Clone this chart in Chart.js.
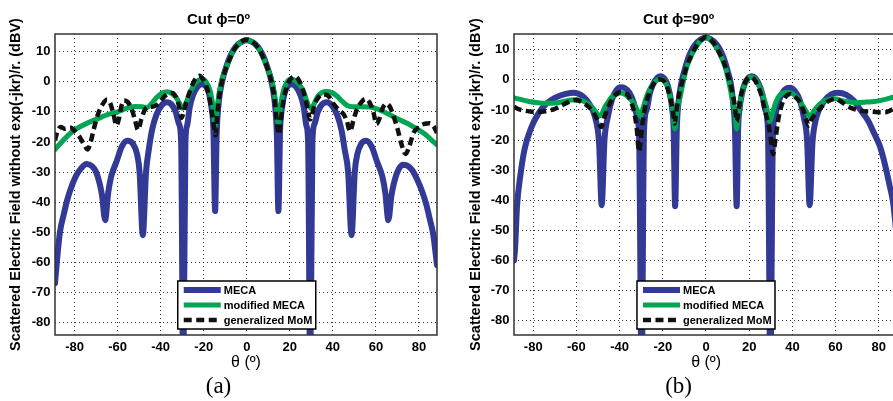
<!DOCTYPE html>
<html>
<head>
<meta charset="utf-8">
<script src="https://cdn.jsdelivr.net/npm/chart.js@4.4.1/dist/chart.umd.min.js"></script>
<style>
  body { margin: 0; background: #fff; overflow: hidden; }
  #wrap { position: relative; width: 893px; height: 401px; overflow: hidden; }
  canvas { position: absolute; top: 0; }
</style>
</head>
<body>
<div id="wrap">
  <canvas id="cutA" width="443" height="401" style="left:0"></canvas>
  <canvas id="cutB" width="460" height="401" style="left:443px"></canvas>
</div>
<script>
// ---- data (theta in deg, field in dBV) ----
const X_TICKS = [-80, -60, -40, -20, 0, 20, 40, 60, 80];
const Y_TICKS = [-80, -70, -60, -50, -40, -30, -20, -10, 0, 10];
const LABELS = ['MECA', 'modified MECA', 'generalized MoM'];

// (a) cut phi = 0
const A_MECA_THETA = [-89.1, -88, -86.8, -85, -83.5, -81.5, -79.5, -77, -74.5, -72, -70, -68.3, -67.2, -65.8, -64.4, -63, -60.5, -58, -55.5, -53, -51, -49.8, -48.3, -46.8, -45.5, -44, -42, -39.5, -37.2, -35, -33, -31.5, -30.5, -29.5, -28.5, -27.7, -26.5, -25, -23, -21, -19, -17.5, -16.3, -15.5, -14.7, -14, -13.3, -12.3, -11, -9.5, -8, -6, -4, -2, 0,
  2, 4, 6, 8, 9.5, 11, 12.3, 13.3, 14, 14.7, 15.5, 16.3, 17.5, 19, 21, 23, 25, 26.5, 27.7, 28.5, 29.5, 30.5, 31.5, 33, 35, 37.2, 39.5, 42, 44, 45.5, 47.1, 48.7, 50.2, 51.4, 53.3, 55.5, 58, 60.5, 63, 64.4, 65.8, 67.2, 68.3, 70, 72.5, 74.5, 77, 79.5, 81.5, 83.5, 85, 86.7, 88.4];
const A_MECA_DB = [-67, -58, -50, -44, -39.5, -35, -31.5, -28.8, -27.3, -28, -30, -34, -38, -46, -37, -31.5, -26.5, -21.5, -19.6, -20.5, -24, -30, -51, -30, -22.5, -16, -11, -7.8, -6.8, -7.5, -10, -14, -20, -100, -20, -14.5, -8.5, -4.5, -1.8, -0.8, -1.5, -4, -9, -16, -43, -18, -9, -3, 1.5, 5, 8, 10.8, 12.5, 13.4, 13.8,
  13.4, 12.5, 10.8, 8, 5, 1.5, -3, -9, -18, -43, -16, -9, -4, -1.5, -0.8, -1.8, -4.5, -8.5, -14.5, -20, -100, -20, -14, -10, -7.5, -6.8, -7.8, -11, -16, -22.5, -30, -51, -30, -24, -20.5, -19.6, -21.5, -26.5, -31.5, -37, -46, -38, -34, -30, -27.6, -27.8, -29.5, -33, -36.5, -41, -45.5, -51, -61];

const A_MOD_THETA = [-89.1, -86, -83, -80, -75, -70, -65, -60, -56, -52, -48.5, -46.5, -44, -42, -39.5, -37, -35, -33, -31.2, -29.8, -28.5, -26.5, -24.5, -22.5, -20.5, -18.5, -17, -15.8, -14.7, -13.8, -12.8, -11.5, -10, -8, -6, -4, -2, 0,
  2, 4, 6, 8, 10, 11.5, 12.8, 13.8, 14.7, 15.8, 17, 18.5, 20.5, 22.5, 24.5, 26.3, 28.3, 30.1, 31.5, 33, 35, 37, 39.5, 42, 44.5, 46.5, 49, 53, 57, 62, 66, 70, 74, 77.5, 80.5, 83.5, 86, 88.4];
const A_MOD_DB = [-22.5, -20, -17.8, -16, -14, -12.5, -11, -10, -8.8, -8.2, -8.3, -8.6, -7, -5.3, -3.8, -3.3, -3.8, -5, -7.2, -8.8, -7.5, -3.8, -1, 0.5, 0.9, -0.5, -3, -7.5, -14.5, -9, -3.5, 0.8, 3.8, 7.5, 10.5, 12.4, 13.5, 13.9,
  13.5, 12.4, 10.5, 7.5, 3.8, 0.8, -3.5, -9, -14, -7.5, -3, -0.3, 0.9, 0.4, -1, -3, -7.2, -8.9, -7, -4.8, -3.5, -3.2, -3.6, -4.8, -6.6, -7.8, -8.3, -8.3, -8.4, -9.4, -10.8, -12.3, -13.6, -15, -16.3, -17.8, -19.5, -21];

const A_MOM_THETA = [-89.1, -88, -86.5, -84.5, -82, -80, -77.5, -75.5, -74, -72.5, -71, -69, -67, -65, -63.5, -62, -60.5, -59.3, -58.2, -57, -55.5, -53.5, -52, -50.5, -49, -47.5, -46, -44, -42, -40, -38, -36, -34.5, -33, -31.5, -30.3, -29.3, -28.2, -26.8, -25.3, -23.5, -22, -20.3, -18.8, -17.2, -16, -15, -14.5, -13.8, -12.8, -11.5, -10, -8, -6, -4, -2, 0,
  2, 4, 6, 8, 10, 11.5, 12.8, 13.8, 14.9, 15.7, 16.6, 17.7, 19.2, 21, 22.5, 24, 25.5, 27, 28.3, 29.5, 30.5, 31.5, 33, 35, 37, 38.5, 40.5, 43, 45, 46.5, 48, 49.5, 51, 53, 55.2, 57, 58.8, 60.3, 61.5, 63, 64.8, 66.5, 68, 70, 72, 73.8, 75.5, 77.5, 80, 82.5, 85, 87, 88.4];
const A_MOM_DB = [-19.5, -16.5, -15, -15.6, -15.2, -16.3, -18.5, -21, -22.5, -20, -15.5, -10.5, -7.5, -6, -7, -10.5, -14.5, -12, -8, -6.2, -6.6, -9, -12.5, -16, -12.5, -9.5, -8.4, -8.3, -7.8, -6.3, -4.7, -3.8, -3.7, -5, -8, -12, -10, -7, -4, -1, 1.3, 2, 0.8, -1.3, -6, -11, -16, -17.8, -12, -5, 0, 3.8, 7.5, 10.5, 12.5, 13.6, 14,
  13.6, 12.5, 10.5, 7.5, 3.8, 0, -5, -12, -17.5, -14, -8.5, -4, -0.5, 1.4, 1.8, 0.8, -1.5, -5, -9, -12.5, -10.5, -7.5, -5.5, -4.2, -4.3, -5.2, -7.5, -9.5, -10.8, -13, -16.5, -13, -9.5, -7, -5.7, -6.8, -10, -14, -12.5, -9, -7.3, -8.3, -11, -15.5, -21, -24, -21.5, -17, -15, -14, -13.8, -15, -17];

// (b) cut phi = 90
const B_MECA_THETA = [-88.9, -88.4, -87.5, -86, -84, -81, -77.7, -74, -70, -65, -61, -58, -55, -52.5, -50.8, -49.5, -48.3, -47, -45.5, -43.5, -41.5, -39.5, -37.5, -35.5, -33.5, -32, -31, -29.8, -28.7, -27.5, -26, -24.5, -22.5, -21, -19.5, -18, -16.8, -15.6, -15, -14.3, -13.5, -12.8, -11.5, -10, -8, -6, -4, -2, 0,
  2, 4, 6, 8, 10, 11.5, 12.6, 13.4, 14.2, 14.9, 15.5, 16.7, 18, 19.5, 21, 22.6, 24.5, 26, 27.5, 28.7, 29.8, 31, 32, 33.5, 35.5, 37.5, 39, 41, 43.3, 45.3, 46.8, 48, 49.3, 50.6, 52.3, 55, 58, 61, 65, 68.5, 71.3, 75, 78, 80.5, 83, 85, 86.7, 88, 89];
const B_MECA_DB = [-60, -56, -42, -32, -23, -16, -11.3, -8, -6, -4.7, -4.3, -5, -7, -10, -14, -21, -41.6, -20, -12.5, -6.5, -3.5, -2.5, -2.8, -4.2, -7.5, -12, -18, -100, -17, -10, -4.5, -1.5, 0.7, 1.2, 0.6, -1.2, -4.5, -10, -16, -42, -16, -8, -1.3, 3, 7.6, 10.6, 12.5, 13.6, 14,
  13.6, 12.5, 10.6, 7.6, 3, -1.3, -8, -16, -42, -16, -10, -4.5, -1.2, 0.6, 1.2, 0.7, -1.5, -4.5, -10, -17, -100, -18, -12, -7.5, -4.2, -2.8, -2.6, -3.6, -6.5, -12.5, -20, -41.6, -21, -14, -10, -6.8, -4.8, -4.3, -5, -7, -9.8, -13.5, -18, -22, -28.5, -35, -41, -50, -58];

const B_MOD_THETA = [-88.9, -86, -82, -78, -74, -70, -66, -62.5, -60, -57, -54.5, -52.5, -51, -49.5, -48, -46.8, -45, -43.5, -41.5, -39.5, -37.5, -35.2, -33.5, -32, -30.5, -29, -27.5, -26, -24.4, -22.5, -21, -19.5, -17.5, -16.3, -15.4, -14.4, -13.3, -12, -10.5, -8.9, -6.5, -4.3, -2, 0,
  2, 4.3, 6.5, 8.9, 10.5, 12, 13.2, 14.2, 15.2, 16.2, 17.5, 19.2, 21, 22.8, 24.5, 26.3, 28, 29.6, 30.8, 32.3, 34, 36, 38, 40, 42, 44, 46, 48.2, 50, 52, 54, 56.5, 59.7, 63, 66.7, 70, 74.4, 78, 80.6, 83.5, 86.7, 89];
const B_MOD_DB = [-6, -6.5, -7.2, -7.6, -7.8, -7.7, -7.2, -6.7, -6.6, -7, -8, -9.3, -10.7, -12, -11, -9, -7, -5.6, -4.7, -4.4, -4.8, -6.3, -7.8, -9.7, -12, -9, -5.5, -3, -1.3, 0, 0.3, -0.3, -3, -6.5, -10.2, -16.3, -10, -5.8, -0.5, 4.2, 8.5, 11.3, 13.3, 14,
  13.3, 11.3, 8.5, 4.2, -0.5, -5.8, -10, -16.3, -10.2, -6, -2.5, -0.1, 0.9, 0.3, -1.8, -5, -9, -13.8, -11, -7.5, -5.2, -4.3, -4.1, -4.6, -5.8, -7.8, -10, -12.2, -10.3, -8.5, -7.3, -6.6, -6.3, -6.9, -7.4, -7.6, -7.4, -7.2, -6.9, -6.4, -5.8, -5.4];

const B_MOM_THETA = [-88.9, -86.5, -84, -80, -77.7, -75, -73, -70.5, -68.4, -66, -63.8, -61.5, -60, -58, -56, -54, -52.2, -50.5, -48.5, -47.3, -46, -44.5, -42.9, -41.3, -39.8, -38, -36, -34.8, -33.6, -32.1, -31, -30.2, -29.8, -29, -28.2, -26.6, -25.1, -23.5, -22, -20.5, -19, -17.7, -16.6, -15.8, -15.1, -14.5, -13.8, -13, -12, -10.5, -8.9, -6.5, -4.3, -2, 0,
  2, 4.3, 6.5, 8.9, 10.5, 12, 13.2, 14.3, 15.3, 16.3, 17.8, 19.3, 20.7, 22.3, 24, 25.8, 27.3, 28.8, 29.8, 31, 32.3, 33.3, 34.3, 35.8, 37.5, 39, 41, 43.5, 45.3, 46.6, 47.5, 48.8, 51.2, 53.5, 55.9, 57.8, 59.7, 62.5, 65.1, 68, 71.3, 74.5, 77.5, 80.5, 83, 85, 86.7, 89];
const B_MOM_DB = [-9, -9.8, -10.2, -10.6, -10.6, -10.5, -10.2, -9.8, -9.1, -8.2, -7.4, -6.8, -6.7, -7.2, -8, -9.2, -10.8, -13, -15.7, -13, -10.2, -7.8, -5.8, -4.6, -4.1, -4.4, -5.2, -7.2, -9.7, -15.8, -23.8, -20, -16.9, -12.5, -9.1, -5, -2.4, -0.6, 0.2, 0, -0.8, -3, -5.8, -8.5, -11.5, -14.5, -11, -7, -3.5, 0.5, 4.5, 8.5, 11.5, 13.4, 14.2,
  13.4, 11.5, 8.5, 4.5, 0.5, -3.5, -8, -13.8, -9, -5, -1.5, 0.4, 0.9, 0.2, -2, -5.5, -10.2, -14.5, -18.5, -24.7, -19, -14, -10.2, -7, -5.2, -4.7, -5.5, -7.4, -10.5, -13.6, -15.2, -13.2, -10.8, -9, -7.4, -6.7, -6.3, -7.2, -8.6, -9.6, -10.2, -10.5, -10.6, -10.8, -10.8, -10.3, -9.7, -9];

// ---- styling ----
Chart.defaults.font.family = '"Liberation Sans", Arial, Helvetica, sans-serif';
Chart.defaults.color = '#000';

const BLUE = '#323a96';
const GREEN = '#00a651';
const BLACK = '#111111';

function pts(theta, db) {
  return theta.map((t, i) => ({ x: t, y: db[i] }));
}

// box around the axes + MATLAB-like legend at the bottom centre
const boxLegend = {
  id: 'boxLegend',
  afterDatasetsDraw(chart) {
    const { ctx, chartArea: a } = chart;
    ctx.save();
    ctx.strokeStyle = '#333';
    ctx.lineWidth = 1.5;
    ctx.strokeRect(a.left, a.top, a.right - a.left, a.bottom - a.top);

    const w = 138, h = 48;
    const x0 = chart.scales.x.getPixelForValue(0) - w / 2;
    const y0 = a.bottom - 6 - h;
    ctx.fillStyle = '#fff';
    ctx.fillRect(x0, y0, w, h);
    ctx.strokeStyle = '#000';
    ctx.strokeRect(x0, y0, w, h);

    chart.data.datasets.forEach((ds, i) => {
      const y = y0 + 9 + i * 15;
      ctx.beginPath();
      ctx.setLineDash(ds.borderDash || []);
      ctx.lineCap = 'butt';
      ctx.lineWidth = ds.borderWidth;
      ctx.strokeStyle = ds.borderColor;
      ctx.moveTo(x0 + 6, y);
      ctx.lineTo(x0 + 43, y);
      ctx.stroke();
      ctx.setLineDash([]);
      ctx.fillStyle = '#000';
      ctx.font = 'bold 11px "Liberation Sans", Arial, sans-serif';
      ctx.textBaseline = 'middle';
      ctx.textAlign = 'left';
      ctx.fillText(ds.label, x0 + 46, y + 0.5);
    });
    ctx.restore();
  }
};

function makeCut(id, p) {
  const datasets = [
    { label: LABELS[0], data: pts(p.meca[0], p.meca[1]), borderColor: BLUE, borderWidth: 6, order: 3,
      borderCapStyle: 'round', borderJoinStyle: 'round' },
    { label: LABELS[1], data: pts(p.mod[0], p.mod[1]), borderColor: GREEN, borderWidth: 5, order: 2,
      borderCapStyle: 'round', borderJoinStyle: 'round' },
    { label: LABELS[2], data: pts(p.mom[0], p.mom[1]), borderColor: BLACK, borderWidth: 4.5, order: 1,
      borderDash: [8, 4.5], borderCapStyle: 'butt' }
  ];
  datasets.forEach(d => {
    d.pointRadius = 0;
    d.fill = false;
    d.cubicInterpolationMode = 'monotone';
    d.clip = 0;
  });

  return new Chart(document.getElementById(id), {
    type: 'line',
    data: { datasets: datasets },
    plugins: [boxLegend],
    options: {
      responsive: false,
      animation: false,
      events: [],
      layout: { padding: { left: p.padLeft, right: p.padRight, top: 0, bottom: 0 } },
      plugins: {
        legend: { display: false },
        tooltip: { enabled: false },
        title: {
          display: true,
          text: p.title,
          font: { size: 15, weight: 'bold' },
          padding: { top: 11, bottom: 5 }
        },
        subtitle: {
          display: true,
          position: 'bottom',
          text: p.tag,
          font: { family: '"Liberation Serif", "Times New Roman", serif', size: 23, weight: 'normal', lineHeight: 1 },
          padding: { top: 0, bottom: 2.5 }
        }
      },
      scales: {
        x: {
          type: 'linear',
          min: p.xMin,
          max: p.xMax,
          afterBuildTicks: s => { s.ticks = X_TICKS.map(v => ({ value: v })); },
          afterFit: s => { s.height = 40.5; },
          grid: { color: 'rgba(0,0,0,0.8)', lineWidth: 1, drawTicks: false },
          border: { display: false, dash: [1, 3] },
          ticks: { font: { size: 13, weight: 'bold' }, padding: 5, maxRotation: 0 },
          title: { display: true, text: 'θ (º)', font: { size: 16, weight: 'normal' }, padding: { top: 0, bottom: 3 } }
        },
        y: {
          type: 'linear',
          min: p.yMin,
          max: p.yMax,
          afterBuildTicks: s => { s.ticks = Y_TICKS.map(v => ({ value: v })); },
          afterFit: s => { s.width = 55; },
          grid: { color: 'rgba(0,0,0,0.8)', lineWidth: 1, drawTicks: false },
          border: { display: false, dash: [1, 3] },
          ticks: { font: { size: 13, weight: 'bold' }, padding: 4.5 },
          title: {
            display: true,
            text: 'Scattered Electric Field without exp(-jkr)/r. (dBV)',
            font: { size: 14.5, weight: 'bold' },
            padding: { top: p.yTitlePad, bottom: 0 }
          }
        }
      }
    }
  });
}

makeCut('cutA', {
  title: 'Cut ϕ=0º', tag: '(a)',
  meca: [A_MECA_THETA, A_MECA_DB], mod: [A_MOD_THETA, A_MOD_DB], mom: [A_MOM_THETA, A_MOM_DB],
  xMin: -89.1, xMax: 88.4, yMin: -84.2, yMax: 15.9,
  padLeft: 0, padRight: 6, yTitlePad: 7.3
});

makeCut('cutB', {
  title: 'Cut ϕ=90º', tag: '(b)',
  meca: [B_MECA_THETA, B_MECA_DB], mod: [B_MOD_THETA, B_MOD_DB], mom: [B_MOM_THETA, B_MOM_DB],
  xMin: -88.9, xMax: 89, yMin: -84.7, yMax: 15.2,
  padLeft: 16, padRight: 4.8, yTitlePad: 8.6
});
</script>
</body>
</html>
